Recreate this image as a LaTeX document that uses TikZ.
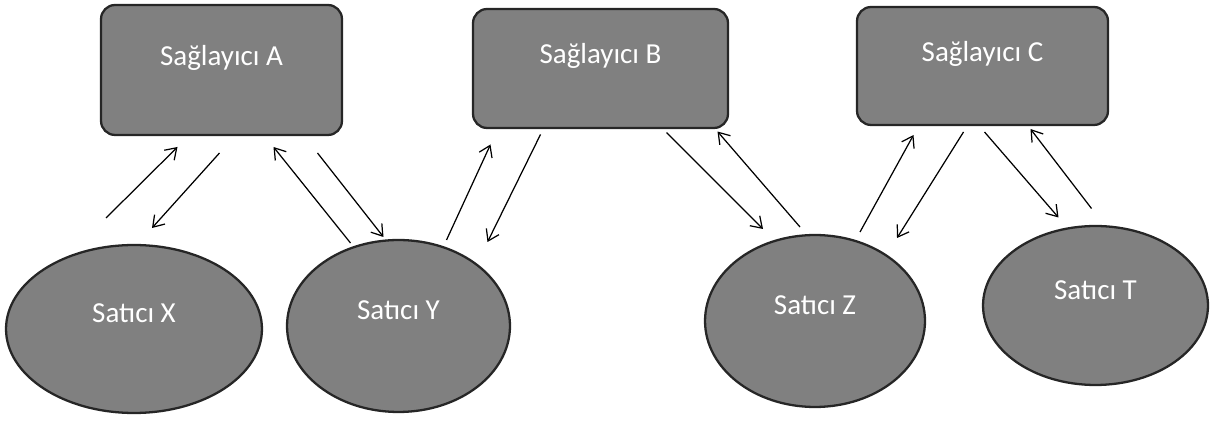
\documentclass[tikz,border=0pt]{standalone}
\usepackage{fontspec}
\setmainfont{Carlito}
\usetikzlibrary{shapes.geometric,arrows.meta}

\tikzset{
  saglayici/.style={draw=black!85, line width=1.3pt, fill=black!50, rounded corners=8pt,
    inner sep=0pt, text depth=0.6cm, text=white, font=\fontsize{16.5}{18}\selectfont},
  satici/.style={ellipse, draw=black!85, line width=1.3pt, fill=black!50,
    inner sep=0pt, text depth=0.62cm, text=white, font=\fontsize{16.5}{18}\selectfont},
  flow/.style={line width=0.7pt, -{Straight Barb[length=6pt,width=8pt]}}
}

\begin{document}
\begin{tikzpicture}[x=0.02cm,y=-0.02cm]
\useasboundingbox (0,0) rectangle (1219,421);
% saglayicilar
\node [saglayici, minimum width=4.82cm, minimum height=2.6cm] (A) at (221.5,70) {Sağlayıcı A};
\node [saglayici, minimum width=5.1cm, minimum height=2.38cm] (B) at (600.5,68.5) {Sağlayıcı B};
\node [saglayici, minimum width=5.02cm, minimum height=2.36cm] (C) at (982.5,66) {Sağlayıcı C};
% saticilar
\node [satici, minimum width=5.12cm, minimum height=3.36cm] (X) at (134,329) {Satıcı X};
\node [satici, minimum width=4.46cm, minimum height=3.44cm] (Y) at (398.5,326) {Satıcı Y};
\node [satici, minimum width=4.4cm, minimum height=3.44cm] (Z) at (815,321) {Satıcı Z};
\node [satici, minimum width=4.5cm, minimum height=3.18cm] (T) at (1095.5,305.5) {Satıcı T};
% oklar
\draw [flow] ([shift={(-28,-111)}]X.center) -- ([shift={(-44,77)}]A.center);
\draw [flow] ([shift={(-2,83)}]A.center) -- ([shift={(18,-101)}]X.center);
\draw [flow] ([shift={(-48,-83)}]Y.center) -- ([shift={(52,77)}]A.center);
\draw [flow] ([shift={(96,83)}]A.center) -- ([shift={(-15,-89)}]Y.center);
\draw [flow] ([shift={(48,-86)}]Y.center) -- ([shift={(-110,76)}]B.center);
\draw [flow] ([shift={(-60,66)}]B.center) -- ([shift={(89,-84)}]Y.center);
\draw [flow] ([shift={(66,64)}]B.center) -- ([shift={(-52,-92)}]Z.center);
\draw [flow] ([shift={(-15,-94)}]Z.center) -- ([shift={(117,63)}]B.center);
\draw [flow] ([shift={(45,-89)}]Z.center) -- ([shift={(-69,69)}]C.center);
\draw [flow] ([shift={(-19,66)}]C.center) -- ([shift={(82,-83)}]Z.center);
\draw [flow] ([shift={(2,66)}]C.center) -- ([shift={(-37,-88)}]T.center);
\draw [flow] ([shift={(-4,-97)}]T.center) -- ([shift={(48,63)}]C.center);
\end{tikzpicture}
\end{document}
